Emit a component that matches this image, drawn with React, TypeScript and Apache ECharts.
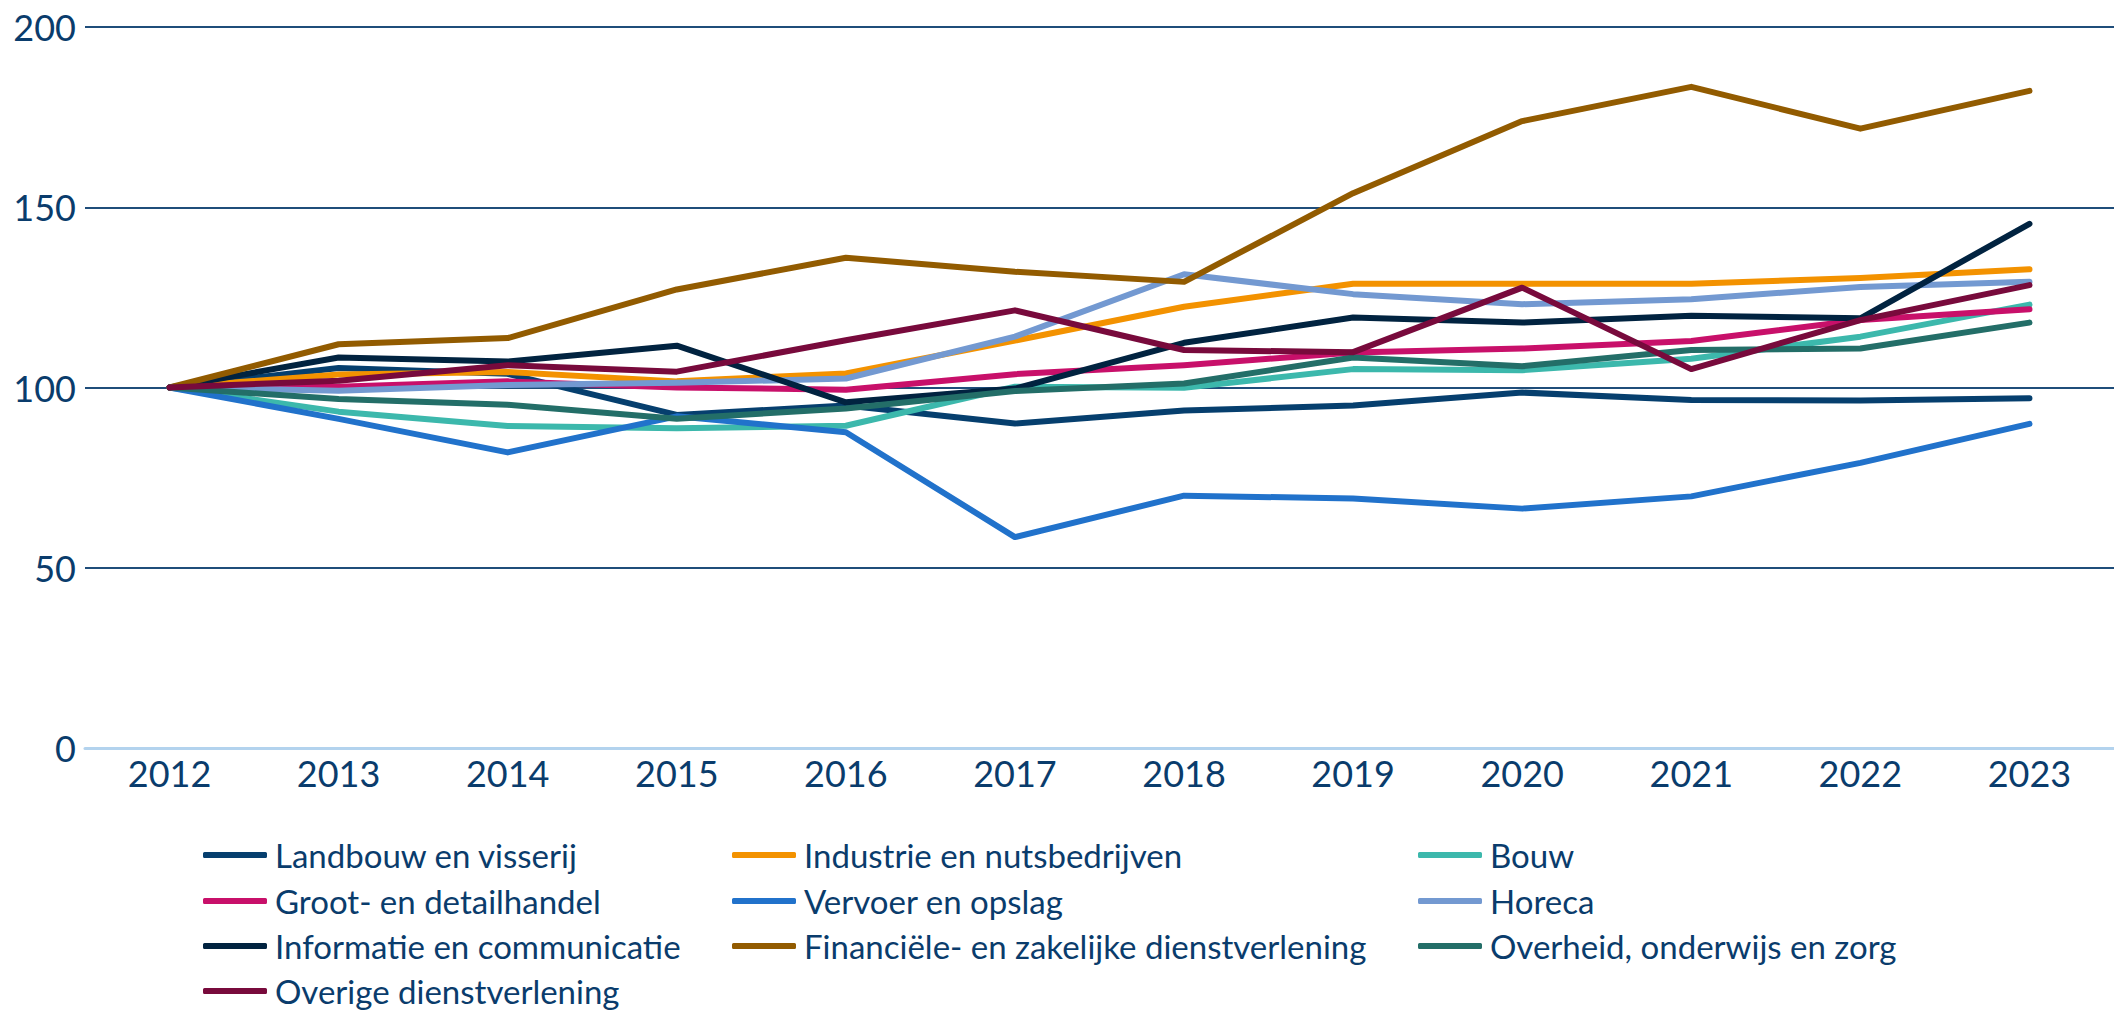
import React, { useEffect, useRef } from "react";
import * as echarts from "echarts";

const years = ["2012", "2013", "2014", "2015", "2016", "2017", "2018", "2019", "2020", "2021", "2022", "2023"];

const landbouw = [100, 105.4, 103.8, 92.4, 95.0, 90.0, 93.6, 95.0, 98.6, 96.5, 96.4, 97.0];
const industrie = [100, 103.6, 104.3, 101.7, 103.9, 113.0, 122.4, 128.8, 128.8, 128.8, 130.4, 132.8];
const bouw = [100, 93.3, 89.3, 88.7, 89.4, 100.2, 99.9, 105.1, 104.8, 108.0, 114.1, 123.0];
const groot = [100, 100.2, 101.7, 100.0, 99.4, 103.7, 106.2, 109.7, 110.8, 112.9, 118.7, 121.7];
const vervoer = [100, 91.3, 82.0, 92.0, 87.6, 58.5, 70.0, 69.2, 66.4, 69.8, 79.1, 89.9];
const horeca = [100, 99.1, 100.7, 101.3, 102.5, 114.1, 131.4, 125.9, 123.1, 124.5, 127.9, 129.3];
const informatie = [100, 108.3, 107.2, 111.6, 95.9, 99.7, 112.4, 119.4, 118.0, 119.9, 119.2, 145.4];
const financieel = [100, 112.0, 113.7, 127.2, 136.0, 132.1, 129.3, 153.9, 173.9, 183.4, 171.8, 182.3];
const overheid = [100, 96.8, 95.2, 91.3, 94.2, 99.0, 101.1, 108.3, 105.9, 110.4, 110.8, 118.0];
const overige = [100, 101.9, 106.2, 104.4, 113.1, 121.4, 110.4, 109.8, 127.7, 105.1, 118.7, 128.4];

const seriesNames = [
  "Landbouw en visserij",
  "Industrie en nutsbedrijven",
  "Bouw",
  "Groot- en detailhandel",
  "Vervoer en opslag",
  "Horeca",
  "Informatie en communicatie",
  "Financiële- en zakelijke dienstverlening",
  "Overheid, onderwijs en zorg",
  "Overige dienstverlening",
];
const seriesData = [landbouw, industrie, bouw, groot, vervoer, horeca, informatie, financieel, overheid, overige];
const seriesColors = [
  "#063f6e",
  "#f39200",
  "#3cb8ac",
  "#c8106a",
  "#2172cb",
  "#7399d1",
  "#012340",
  "#925b00",
  "#236e68",
  "#780a3c",
];

const yTicks = [0, 50, 100, 150, 200];

const TEXT = "#0a3c6c";
const FONT = "Lato";

const legendColLefts = [203, 732, 1418];
const legendRowTops = [838, 884, 929, 974];

export default function App() {
  const ref = useRef<HTMLDivElement>(null);
  useEffect(() => {
    document.body.style.margin = "0";
    if (!ref.current) return;
    const chart = echarts.init(ref.current, undefined, { renderer: "svg" });
    chart.setOption({
      animation: false,
      backgroundColor: "#ffffff",
      grid: { left: 85, right: -10, top: 27, bottom: 263, containLabel: false },
      xAxis: {
        type: "category",
        data: years,
        boundaryGap: true,
        axisLine: { show: true, lineStyle: { color: "#b3d3ee", width: 3 } },
        axisTick: { show: false },
        axisLabel: { color: TEXT, fontSize: 36, fontFamily: FONT, margin: 7 },
        splitLine: { show: false },
      },
      yAxis: {
        type: "value",
        min: yTicks[0],
        max: yTicks[yTicks.length - 1],
        interval: 50,
        axisLine: { show: false },
        axisTick: { show: false },
        axisLabel: { color: TEXT, fontSize: 36, fontFamily: FONT, margin: 9 },
        splitLine: {
          show: true,
          lineStyle: { color: "#1f4d7a", width: 2 },
          showMinLine: false,
        },
      },
      legend: seriesNames.map((name, i) => ({
        orient: "vertical",
        left: legendColLefts[i % 3],
        top: legendRowTops[Math.floor(i / 3)],
        padding: 0,
        itemGap: 0,
        itemWidth: 64,
        itemHeight: 6,
        icon: "roundRect",
        data: [name],
        textStyle: { color: TEXT, fontSize: 33, fontFamily: FONT, lineHeight: 34, padding: [0, 0, 0, 3] },
      })),
      series: seriesNames.map((name, i) => ({
        name,
        type: "line",
        data: seriesData[i],
        showSymbol: false,
        symbol: "none",
        lineStyle: { color: seriesColors[i], width: 6, cap: "round", join: "round" },
        itemStyle: { color: seriesColors[i] },
      })),
    });
    return () => chart.dispose();
  }, []);
  return <div ref={ref} style={{ width: 2114, height: 1011 }} />;
}
